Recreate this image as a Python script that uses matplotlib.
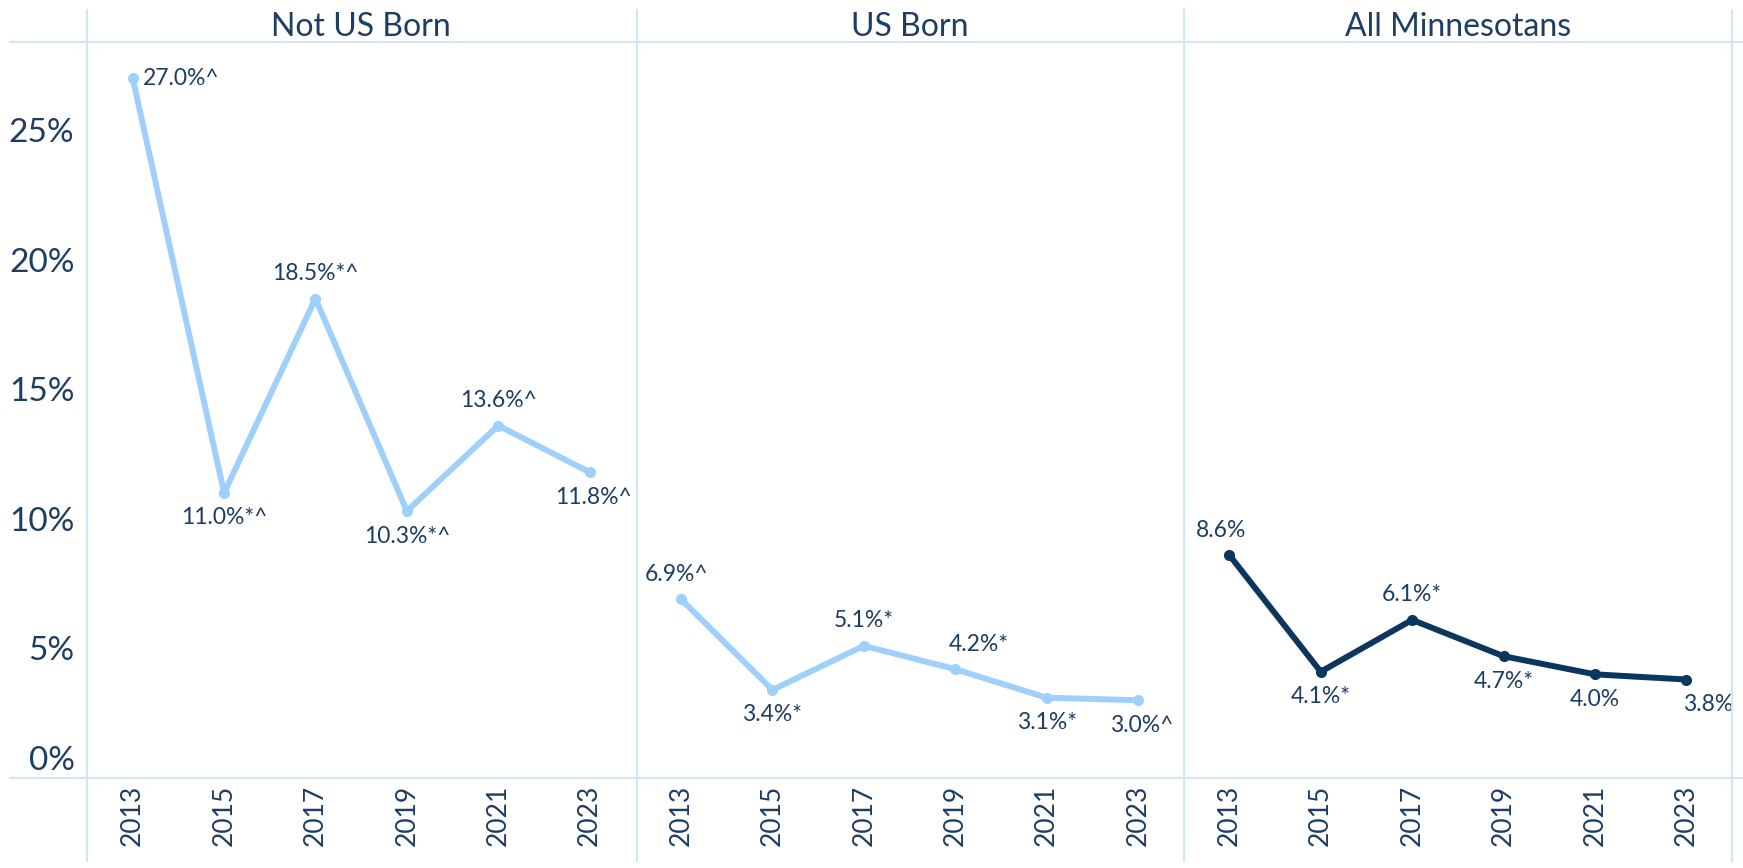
import numpy as np
import matplotlib.pyplot as plt
from matplotlib.lines import Line2D
import matplotlib.transforms as mtransforms

plt.rcParams['font.family'] = ['Lato', 'DejaVu Sans']

years = ['2013', '2015', '2017', '2019', '2021', '2023']
panels = ['Not US Born', 'US Born', 'All Minnesotans']
not_us_born = [27.0, 11.0, 18.5, 10.3, 13.6, 11.8]
us_born = [6.9, 3.4, 5.1, 4.2, 3.1, 3.0]
all_mn = [8.6, 4.1, 6.1, 4.7, 4.0, 3.8]
flags_not_us = ['^', '*^', '*^', '*^', '^', '^']
flags_us = ['^', '*', '*', '*', '*', '^']
flags_all = ['', '*', '*', '*', '', '']
yticks = [0, 5, 10, 15, 20, 25]

# label placement per point: (dx, dy) in points
offs_not_us = [(35, 0), (0, -18), (0, 18), (0, -18), (0, 18), (3, -18)]
offs_us = [(-3, 18), (0, -18), (0, 18), (17, 18), (0, -18), (3, -18)]
offs_all = [(-6, 18), (0, -18), (0, 18), (0, -18), (0, -18), (16, -18)]

light = '#9fd0fb'
navy = '#0b365e'
text_c = '#1d3d63'
rule = '#cfe5f8'

W, H = 1743, 868
fig = plt.figure(figsize=(W / 100, H / 100), dpi=100)
left, right, top, bottom = 87, 1732, 42, 778
axes = fig.subplots(1, 3, sharey=True)
fig.subplots_adjust(left=left / W, right=right / W, top=1 - top / H,
                    bottom=1 - bottom / H, wspace=0)

series = [(not_us_born, flags_not_us, offs_not_us, light),
          (us_born, flags_us, offs_us, light),
          (all_mn, flags_all, offs_all, navy)]
x = np.arange(len(years))

for ax, name, (vals, flags, offs, col) in zip(axes, panels, series):
    ax.plot(x, vals, color=col, lw=4.3, marker='o', ms=7, solid_capstyle='round')
    for xi, v, f, (dx, dy) in zip(x, vals, flags, offs):
        ax.annotate(f'{v:.1f}%{f}', (xi, v), xytext=(dx, dy), textcoords='offset points',
                    ha='center', va='center', fontsize=16.5, color=text_c)
    ax.set_xlim(-0.5, 5.5)
    ax.set_ylim(0, 28.4)
    ax.set_xticks(x)
    ax.set_xticklabels(years, rotation=90, fontsize=19, color=text_c)
    ax.tick_params(length=0, pad=5)
    for s in ax.spines.values():
        s.set_visible(False)
    ax.set_title(name, fontsize=23, color=text_c, pad=4)

axes[0].set_yticks(yticks)
axes[0].set_yticklabels([f'{t}%' for t in yticks], fontsize=24, color=text_c)
axes[0].tick_params(axis='y', pad=9)
# the 0% label sits a little above the baseline
lab0 = axes[0].get_yticklabels()[0]
lab0.set_transform(lab0.get_transform() + mtransforms.ScaledTranslation(0, 0.2, fig.dpi_scale_trans))

# frame rules
for yy in (top, bottom):
    fig.add_artist(Line2D([10 / W, 1], [1 - yy / H] * 2, color=rule, lw=1.5))
for xx in (left, 637, 1184, right):
    fig.add_artist(Line2D([xx / W] * 2, [1 - 10 / H, 1 - 861 / H], color=rule, lw=1.5))

fig.savefig('out.png', dpi=100)
